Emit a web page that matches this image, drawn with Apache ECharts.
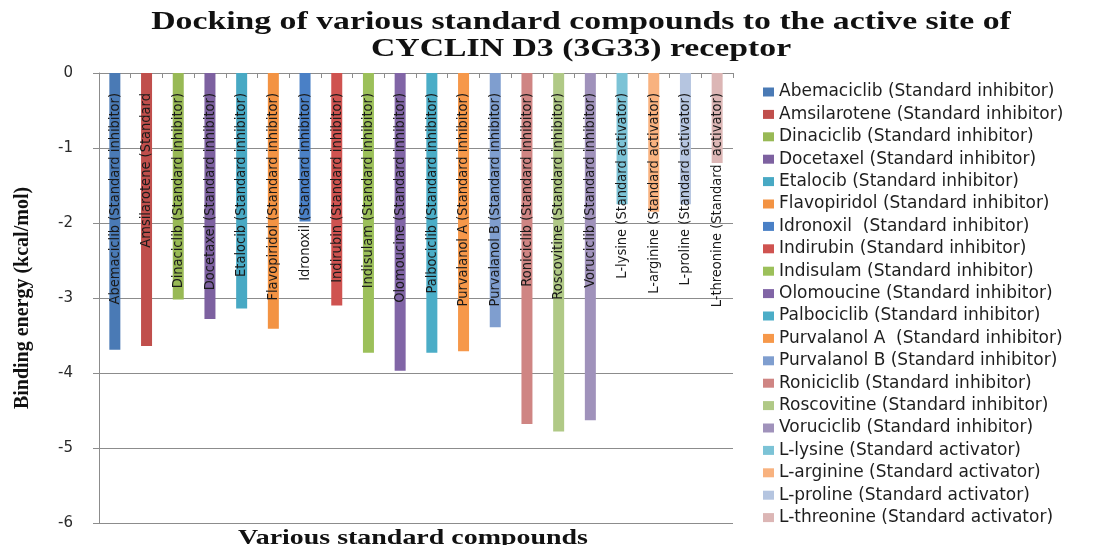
<!DOCTYPE html>
<html>
<head>
<meta charset="utf-8">
<script src="https://cdn.jsdelivr.net/npm/echarts@6/dist/echarts.min.js"></script>
<style>
  html, body { margin: 0; padding: 0; background: #ffffff; }
  #chart { width: 1102px; height: 545px; }
</style>
</head>
<body>
<div id="chart"></div>
<script>
// Compounds docked against CYCLIN D3 (3G33), in plotting order
const compounds = [
  'Abemaciclib (Standard inhibitor)',
  'Amsilarotene (Standard inhibitor)',
  'Dinaciclib (Standard inhibitor)',
  'Docetaxel (Standard inhibitor)',
  'Etalocib (Standard inhibitor)',
  'Flavopiridol (Standard inhibitor)',
  'Idronoxil  (Standard inhibitor)',
  'Indirubin (Standard inhibitor)',
  'Indisulam (Standard inhibitor)',
  'Olomoucine (Standard inhibitor)',
  'Palbociclib (Standard inhibitor)',
  'Purvalanol A  (Standard inhibitor)',
  'Purvalanol B (Standard inhibitor)',
  'Roniciclib (Standard inhibitor)',
  'Roscovitine (Standard inhibitor)',
  'Voruciclib (Standard inhibitor)',
  'L-lysine (Standard activator)',
  'L-arginine (Standard activator)',
  'L-proline (Standard activator)',
  'L-threonine (Standard activator)'
];

// Text written along each bar
const barLabels = [
  'Abemaciclib (Standard inhibitor)',
  'Amsilarotene (Standard',
  'Dinaciclib (Standard inhibitor)',
  'Docetaxel (Standard inhibitor)',
  'Etalocib (Standard inhibitor)',
  'Flavopiridol (Standard inhibitor)',
  'Idronoxil (Standard inhibitor)',
  'Indirubin (Standard inhibitor)',
  'Indisulam (Standard inhibitor)',
  'Olomoucine (Standard inhibitor)',
  'Palbociclib (Standard inhibitor)',
  'Purvalanol A (Standard inhibitor)',
  'Purvalanol B (Standard inhibitor)',
  'Roniciclib (Standard inhibitor)',
  'Roscovitine (Standard inhibitor)',
  'Voruciclib (Standard inhibitor)',
  'L-lysine (Standard activator)',
  'L-arginine (Standard activator)',
  'L-proline (Standard activator)',
  'L-threonine (Standard  activator)'
];

// Binding energy, kcal/mol
const bindingEnergy = [
  -3.69, -3.64, -3.02, -3.28, -3.14, -3.41, -1.98, -3.10, -3.73, -3.97,
  -3.73, -3.71, -3.39, -4.68, -4.78, -4.63, -1.75, -1.85, -1.75, -1.20
];

const barColors = [
  '#4a7ab5', '#c04f4c', '#98b955', '#7d61a0', '#48a9c4', '#f39343',
  '#4a80c6', '#cf5350', '#9cc05a', '#8165a6', '#4badc7', '#f6984a',
  '#7f9ecf', '#cf8583', '#b0c986', '#a092bb', '#7cc3d6', '#f8b27f',
  '#b5c5e0', '#dcb6b5'
];

// Value axis range and step
const yMin = -6;
const yMax = 0;
const yStep = 1;

const chart = echarts.init(document.getElementById('chart'), null, { renderer: 'canvas' });

const gridColor = '#8c8c8c';
const serif = '"Liberation Serif", "Times New Roman", serif';
const narrow = '"Liberation Sans Narrow", "DejaVu Sans Condensed", "Liberation Sans", sans-serif';
const sans = '"DejaVu Sans", Verdana, sans-serif';

const series = compounds.map((name, i) => ({
  name: name,
  type: 'bar',
  stack: 'all',
  barWidth: 11,
  itemStyle: { color: barColors[i] },
  data: bindingEnergy.map((v, j) => (j === i ? v : '-')),
  label: {
    show: true,
    formatter: barLabels[i],
    position: ['50%', 20],
    rotate: 90,
    align: 'right',
    verticalAlign: 'middle',
    fontFamily: narrow,
    fontSize: 14.5,
    color: '#1a1a1a'
  }
}));

chart.setOption({
  backgroundColor: '#ffffff',
  animation: false,
  graphic: [
    {
      type: 'text',
      x: 581,
      y: 10,
      scaleX: 1.35,
      style: {
        text: 'Docking of various standard compounds to the active site of',
        font: 'bold 25px ' + serif,
        fill: '#111111',
        textAlign: 'center'
      }
    },
    {
      type: 'text',
      x: 581,
      y: 37,
      scaleX: 1.35,
      style: {
        text: 'CYCLIN D3 (3G33) receptor',
        font: 'bold 25px ' + serif,
        fill: '#111111',
        textAlign: 'center'
      }
    },
    {
      type: 'text',
      x: 413,
      y: 527,
      scaleX: 1.27,
      style: {
        text: 'Various standard compounds',
        font: 'bold 22px ' + serif,
        fill: '#111111',
        textAlign: 'center'
      }
    }
  ],
  legend: {
    orient: 'vertical',
    left: 758,
    top: 78,
    itemWidth: 11,
    itemHeight: 9,
    itemGap: 4.4,
    icon: 'rect',
    data: compounds,
    textStyle: {
      fontFamily: sans,
      fontSize: 17,
      lineHeight: 18,
      color: '#1e1e1e'
    }
  },
  grid: {
    left: 99,
    right: 369,
    top: 73,
    bottom: 22,
    containLabel: false
  },
  xAxis: {
    type: 'category',
    position: 'top',
    data: compounds,
    axisLine: { show: true, lineStyle: { color: gridColor, width: 1 } },
    axisTick: { show: true, inside: true, interval: 0, length: 5, lineStyle: { color: gridColor } },
    axisLabel: { show: false },
    splitLine: { show: false }
  },
  yAxis: {
    type: 'value',
    min: yMin,
    max: yMax,
    interval: yStep,
    name: 'Binding energy (kcal/mol)',
    nameLocation: 'middle',
    nameGap: 66,
    nameTextStyle: {
      fontFamily: serif,
      fontWeight: 'bold',
      fontSize: 20,
      color: '#111111'
    },
    axisLine: { show: true, lineStyle: { color: gridColor, width: 1 } },
    axisTick: { show: true, length: 6, lineStyle: { color: gridColor } },
    axisLabel: {
      margin: 26,
      fontFamily: sans,
      fontSize: 15,
      color: '#2a2a2a'
    },
    splitLine: { show: true, lineStyle: { color: gridColor, width: 1 } }
  },
  series: series
});
</script>
</body>
</html>
